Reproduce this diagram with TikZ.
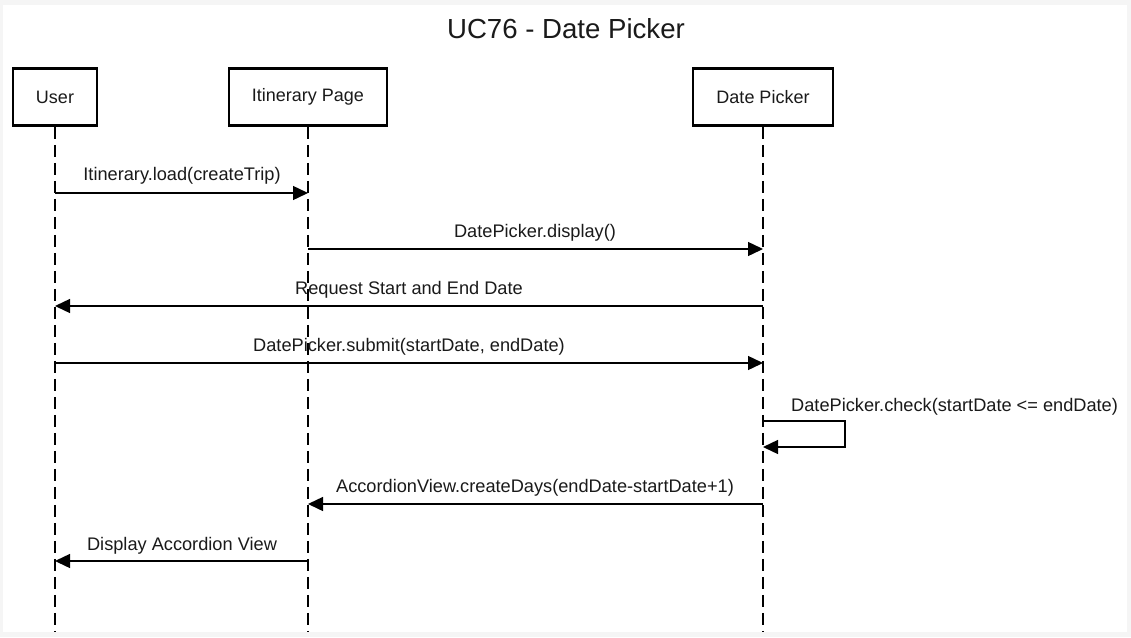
\documentclass[tikz,border=0pt]{standalone}
\usepackage{fontspec}
\setmainfont{Liberation Sans}
\usetikzlibrary{arrows.meta}
\definecolor{bggray}{HTML}{F5F5F5}
\definecolor{txt}{HTML}{1A1A1A}
\tikzset{
  actor/.style={draw=black, line width=2.8pt, fill=white, minimum height=57pt, inner sep=0pt, font=\fontsize{18}{21}\selectfont, text=txt},
  life/.style={line width=1.4pt, dash pattern=on 12pt off 6pt},
  msg/.style={line width=1.4pt, -{Triangle[length=15pt,width=14pt]}},
  lbl/.style={font=\fontsize{18.2}{21}\selectfont, text=txt, inner sep=0pt}
}
\begin{document}
\begin{tikzpicture}[x=1pt,y=-1pt]
\useasboundingbox (0,0) rectangle (1131,637);
\fill[bggray] (0,0) rectangle (1131,637);
\fill[white] (3,5) rectangle (1127,632);
\node[font=\fontsize{27.6}{32}\selectfont, text=txt] (title) at (566,29) {UC76 - Date Picker};
% actors
\node[actor, minimum width=84pt] (user) at (55,97) {User};
\node[actor, minimum width=158pt] (itin) at (308,97) {Itinerary Page};
\node[actor, minimum width=140pt] (dp) at (763,97) {Date Picker};
\coordinate (userEnd) at (55,632);
\coordinate (itinEnd) at (308,632);
\coordinate (dpEnd) at (763,632);
\draw[life] (user.south) -- (userEnd);
\draw[life] (itin.south) -- (itinEnd);
\draw[life] (dp.south) -- (dpEnd);
% message anchors
\coordinate (u1) at (55,193); \coordinate (i1) at (308,193);
\coordinate (i2) at (308,249); \coordinate (d2) at (763,249);
\coordinate (d3) at (763,306); \coordinate (u3) at (55,306);
\coordinate (u4) at (55,363); \coordinate (d4) at (763,363);
\coordinate (d5a) at (763,421); \coordinate (d5b) at (763,447);
\coordinate (d6) at (763,504); \coordinate (i6) at (308,504);
\coordinate (i7) at (308,561); \coordinate (u7) at (55,561);
% messages
\draw[msg] (u1) -- (i1);
\node[lbl] (m1) at (182,176) {Itinerary.load(createTrip)};
\draw[msg] (i2) -- (d2);
\node[lbl] (m2) at (535,233) {DatePicker.display()};
\draw[msg] (d3) -- (u3);
\node[lbl] (m3) at (409,290) {Request Start and End Date};
\draw[msg] (u4) -- (d4);
\node[lbl] (m4) at (409,347) {DatePicker.submit(startDate, endDate)};
\draw[msg] (d5a) -- (845,421) -- (845,447) -- (d5b);
\node[lbl, anchor=west] (m5) at (791,407) {DatePicker.check(startDate <= endDate)};
\draw[msg] (d6) -- (i6);
\node[lbl] (m6) at (535,488) {AccordionView.createDays(endDate-startDate+1)};
\draw[msg] (i7) -- (u7);
\node[lbl] (m7) at (182,546) {Display Accordion View};
\end{tikzpicture}
\end{document}
